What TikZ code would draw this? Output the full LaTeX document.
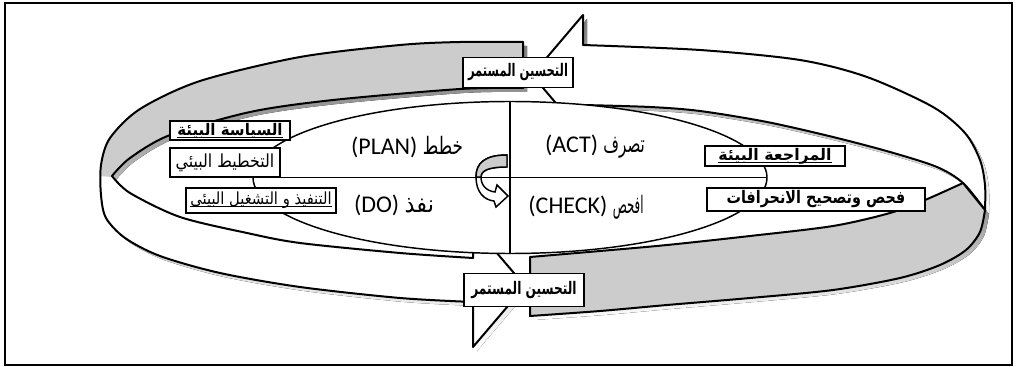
\documentclass[tikz,border=0pt]{standalone}
\usepackage{graphicx}
\usepackage{fontspec}
\setmainfont{Carlito}
\newfontfamily\arabicfont[Script=Arabic]{DejaVu Sans}
\TeXXeTstate=1
\definecolor{bandgray}{RGB}{204,204,204}
\definecolor{shade}{RGB}{128,128,128}
% Arabic text helpers
\newcommand{\artx}[1]{{\arabicfont\beginR #1\endR}}
\newcommand{\artxb}[1]{{\arabicfont\bfseries\beginR #1\endR}}
\newcommand{\fitw}[2]{\resizebox{#1}{\height}{#2}}
\newcommand{\arul}[1]{\setbox0\hbox{#1}\rlap{\rule[-1.8pt]{\wd0}{0.7pt}}\box0}
% outlines of the ribbon pieces (units: px, y downwards)
\newcommand{\leftribbon}{plot[smooth] coordinates {(523,42) (460,42) (400,45) (300,57) (200,81) (140,109) (110,138) (101,165) (101,195) (106,218) (125,238) (160,256) (220,273) (300,287) (400,298) (473,302)}
  -- (473,347) -- (525,286) -- (473,225) -- (473,258)
  -- plot[smooth] coordinates {(473,258) (400,253) (300,243) (247,233) (180,217) (130,193) (112,176)}
  -- plot[smooth] coordinates {(112,176) (130,158) (170,135) (250,112) (333,100) (460,89) (523,88)}
  -- cycle}
\newcommand{\topribbon}{(583,15) -- (532,75) -- (583,135) -- (583,105)
  -- plot[smooth] coordinates {(583,105) (650,107) (700,111) (767,122) (833,137) (890,152) (937,167) (963,183) (985,210)}
  -- plot[smooth] coordinates {(985,210) (985,185) (980,160) (965,133) (933,107) (867,77) (800,60) (700,50) (583,45)}
  -- cycle}
\newcommand{\bottomribbon}{plot[smooth] coordinates {(530,257) (600,251) (667,245) (750,236) (833,226) (890,213) (925,200) (963,183)}
  -- (985,210)
  -- plot[smooth] coordinates {(985,210) (980,232) (966,250) (940,265) (900,278) (833,290) (750,298) (667,305) (600,311) (530,316)}
  -- cycle}
\tikzset{
  ribbon/.style={draw=black, line width=1.5pt, line join=round},
  labelbox/.style={draw=black, line width=1.4pt, fill=white, inner sep=0pt},
  quadtext/.style={inner sep=0pt, font=\fontsize{18}{20}\selectfont},
  divider/.style={line width=1.1pt},
}
\begin{document}
\begin{tikzpicture}[x=0.75pt,y=-0.75pt]
\useasboundingbox (0,0) rectangle (1018,367);
\draw[line width=1.4pt] (5,3) rectangle (1012,365);

% drop shadows of the ribbon
\begin{scope}[shift={(4,4)}]
  \fill[shade] \leftribbon;
  \fill[shade] \topribbon;
  \fill[shade] \bottomribbon;
\end{scope}

% left ribbon: grey upper face, white lower face, arrow at the bottom
\fill[white] \leftribbon;
\begin{scope}
  \clip \leftribbon;
  \fill[bandgray] (0,0) -- (600,0) -- (600,95) -- (112,177) -- (0,168) -- cycle;
\end{scope}
\draw[ribbon] \leftribbon;

% right ribbon: white upper face with arrow, grey lower face
\draw[ribbon, fill=white] \topribbon;
\draw[ribbon, fill=bandgray] \bottomribbon;

% PDCA ellipse and its quadrants
\draw[divider, fill=white] (510,177.5) ellipse [x radius=257, y radius=76];
\coordinate (ctop) at (510,101.5);
\coordinate (cbot) at (510,253.5);
\coordinate (cleft) at (253,177.5);
\coordinate (cright) at (767,177.5);

% small turning arrow at the centre
\draw[line width=1.1pt, fill=white] (507,155) .. controls (485,155) and (476,163) .. (476,177)
  .. controls (476,192) and (484,200) .. (494,201) -- (496,207) -- (508,196) -- (497,185) -- (495,192)
  .. controls (487,191) and (481,186) .. (481,177) .. controls (481,170) and (490,167) .. (507,167) -- cycle;
\draw[line width=1.1pt, fill=bandgray] (507,155) .. controls (485,155) and (476,163) .. (476,177)
  -- (481,177) .. controls (481,170) and (490,167) .. (507,167) -- cycle;

\draw[divider] (ctop) -- (cbot);
\draw[divider] (cleft) -- (cright);

% quadrant names
\node[quadtext] (plan) at (407,147) {(PLAN)~\fitw{30pt}{\artx{خطط}}};
\node[quadtext] (act) at (595,147) {(ACT)~\fitw{31pt}{\artx{تصرف}}};
\node[quadtext] (do) at (394,205) {(DO)~\fitw{22pt}{\artx{نفذ}}};
\node[quadtext] (check) at (586,207) {(CHECK)~\fitw{23pt}{\artx{افحص}}};

% labelled boxes
\node[labelbox, minimum width=82.5pt, minimum height=22.5pt] (imptop) at (518,72.5)
  {\fontsize{13}{15}\selectfont\fitw{75pt}{\artxb{التحسين المستمر}}};
\node[labelbox, minimum width=90pt, minimum height=24.75pt] (impbot) at (524,290)
  {\fontsize{13}{15}\selectfont\fitw{79pt}{\artxb{التحسين المستمر}}};
\node[labelbox, minimum width=90pt, minimum height=14.25pt] (policy) at (230,130.5)
  {\fontsize{12}{13}\selectfont\fitw{79pt}{\arul{\artxb{السياسة البيئة}}}};
\node[labelbox, minimum width=82.5pt, minimum height=21.75pt] (planning) at (225,162.5)
  {\fontsize{13.5}{15}\selectfont\fitw{74pt}{\artx{التخطيط البيئي}}};
\node[labelbox, minimum width=112.5pt, minimum height=18.75pt] (operation) at (261,200.5)
  {\fontsize{12.5}{14}\selectfont\fitw{106pt}{\arul{\artx{التنفيذ و التشغيل البيئى}}}};
\node[labelbox, minimum width=105pt, minimum height=15pt] (review) at (775,156)
  {\fontsize{12}{13}\selectfont\fitw{85pt}{\arul{\artxb{المراجعة البيئة}}}};
\node[labelbox, minimum width=163.5pt, minimum height=17.25pt] (correct) at (816,199.5)
  {\fontsize{13}{15}\selectfont\fitw{134pt}{\artxb{فحص وتصحيح الانحرافات}}};
\end{tikzpicture}
\end{document}
